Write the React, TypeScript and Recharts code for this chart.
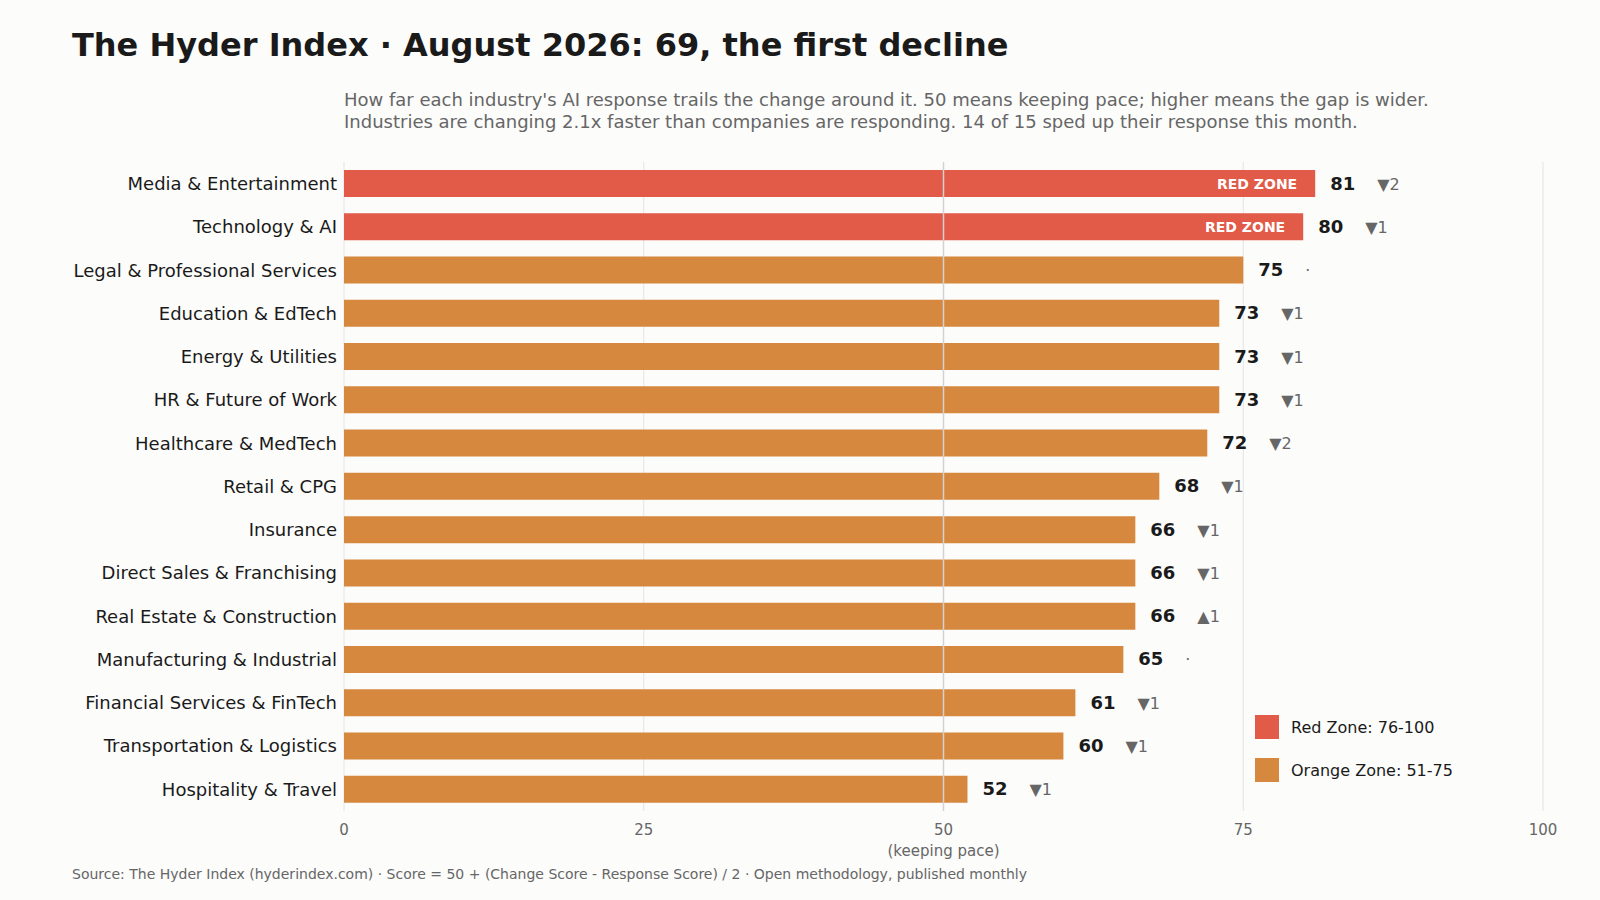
import React from "react";
import { BarChart, Bar, XAxis, YAxis, CartesianGrid, LabelList, Cell, ReferenceLine } from "recharts";

const industries = ["Media & Entertainment","Technology & AI","Legal & Professional Services","Education & EdTech","Energy & Utilities","HR & Future of Work","Healthcare & MedTech","Retail & CPG","Insurance","Direct Sales & Franchising","Real Estate & Construction","Manufacturing & Industrial","Financial Services & FinTech","Transportation & Logistics","Hospitality & Travel"];
const scores = [81,80,75,73,73,73,72,68,66,66,66,65,61,60,52];
const changes = ["▼2","▼1","·","▼1","▼1","▼1","▼2","▼1","▼1","▼1","▲1","·","▼1","▼1","▼1"];
const xTicks = [0,25,50,75,100];

const data = industries.map((name, i) => ({ name, score: scores[i], change: changes[i] }));
const RED = "#E25A48", ORANGE = "#D6883F";
const font = "'DejaVu Sans', sans-serif";

const ValueLabel = (props: any) => {
  const { x, y, width, height, index } = props;
  const d = data[index];
  const cy = y + height / 2;
  const end = x + width;
  return (
    <g fontFamily={font}>
      {d.score > 75 && (
        <text x={end - 18} y={cy} dy={5} textAnchor="end" fill="#fff" fontSize={14} fontWeight="bold">RED ZONE</text>
      )}
      <text x={end + 15} y={cy} dy={6} fill="#1a1a1a" fontSize={18} fontWeight="bold">{d.score}</text>
      <text x={end + 62} y={cy} dy={6} fill="#666" fontSize={16}>{d.change}</text>
    </g>
  );
};

const XTick = (props: any) => {
  const { x, y, payload } = props;
  return (
    <g fontFamily={font}>
      <text x={x} y={y + 16} textAnchor="middle" fill="#666" fontSize={15}>{payload.value}</text>
      {payload.value === 50 && <text x={x} y={y + 37} textAnchor="middle" fill="#666" fontSize={15}>(keeping pace)</text>}
    </g>
  );
};

export default function App() {
  return (
    <div style={{ position: "absolute", left: 0, top: 0, width: 1600, height: 900, background: "#FCFCFB", fontFamily: font }}>
      <div style={{ position: "absolute", left: 72, top: 26, fontSize: 32, fontWeight: "bold", color: "#1a1a1a" }}>
        The Hyder Index · August 2026: 69, the first decline
      </div>
      <div style={{ position: "absolute", left: 344, top: 89, fontSize: 18, color: "#666", lineHeight: "22px" }}>
        How far each industry's AI response trails the change around it. 50 means keeping pace; higher means the gap is wider.<br />
        Industries are changing 2.1x faster than companies are responding. 14 of 15 sped up their response this month.
      </div>
      <BarChart width={1600} height={900} data={data} layout="vertical" margin={{ top: 162, right: 57, bottom: 39, left: 0 }} barSize={27}>
        <CartesianGrid horizontal={false} stroke="#e4e4e4" />
        <ReferenceLine x={50} stroke="#d2d2d2" strokeWidth={1.5} />
        <XAxis type="number" domain={[0, 100]} ticks={xTicks} axisLine={false} tickLine={false} tick={<XTick />} height={50} />
        <YAxis type="category" dataKey="name" width={344} axisLine={false} tickLine={false} tickSize={0} tickMargin={7} tick={{ fill: "#1a1a1a", fontSize: 18, fontFamily: font }} />
        <Bar dataKey="score" isAnimationActive={false}>
          {data.map((d, i) => <Cell key={i} fill={d.score > 75 ? RED : ORANGE} />)}
          <LabelList dataKey="score" content={<ValueLabel />} />
        </Bar>
      </BarChart>
      <div style={{ position: "absolute", left: 1255, top: 714, fontSize: 16, color: "#1a1a1a" }}>
        <div style={{ display: "flex", alignItems: "center", height: 26, marginBottom: 17 }}>
          <span style={{ width: 24, height: 24, background: RED, marginRight: 12 }} />Red Zone: 76-100
        </div>
        <div style={{ display: "flex", alignItems: "center", height: 26 }}>
          <span style={{ width: 24, height: 24, background: ORANGE, marginRight: 12 }} />Orange Zone: 51-75
        </div>
      </div>
      <div style={{ position: "absolute", left: 72, top: 866, fontSize: 14, color: "#666" }}>
        Source: The Hyder Index (hyderindex.com) · Score = 50 + (Change Score - Response Score) / 2 · Open methodology, published monthly
      </div>
    </div>
  );
}
